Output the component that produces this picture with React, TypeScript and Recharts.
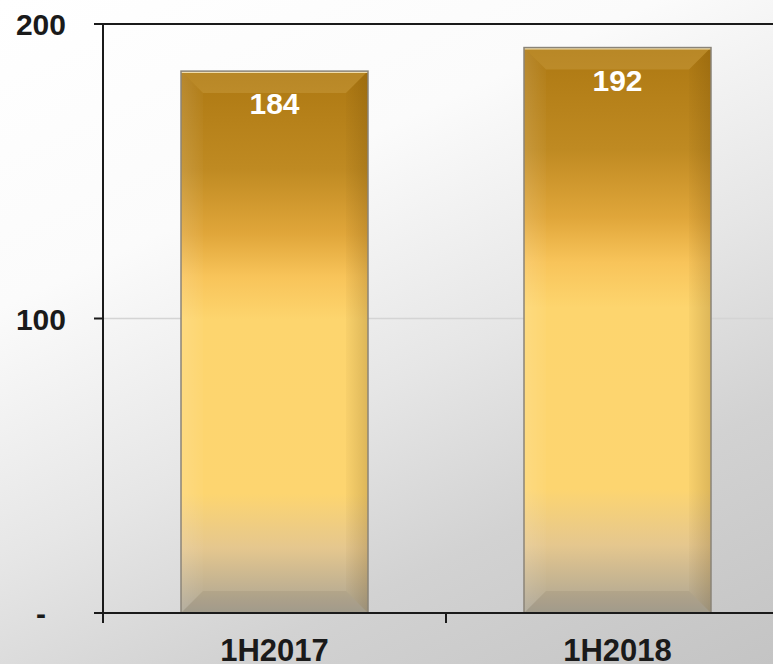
import React from "react";
import { BarChart, Bar, XAxis, YAxis, CartesianGrid, ReferenceLine, LabelList } from "recharts";

const categories = ["1H2017", "1H2018"];
const values = [184, 192];
const yTicks = [0, 100, 200];

const data = categories.map((c, i) => ({ name: c, value: values[i] }));

const BevelBar = (props: any) => {
  const { x, y, width, height } = props;
  if (!height || height <= 0) return null;
  const b = Math.min(22, width / 4, height / 4);
  const r = x + width;
  const bt = y + height;
  return (
    <g>
      <rect x={x} y={y} width={width} height={height} fill="url(#goldGrad)" />
      <polygon points={`${x},${y} ${r},${y} ${r - b},${y + b} ${x + b},${y + b}`} fill="#ffe9a0" fillOpacity={0.14} />
      <polygon points={`${x},${y} ${x + b},${y + b} ${x + b},${bt - b} ${x},${bt}`} fill="url(#leftBevel)" />
      <polygon points={`${r},${y} ${r - b},${y + b} ${r - b},${bt - b} ${r},${bt}`} fill="url(#rightBevel)" />
      <polygon points={`${x},${bt} ${x + b},${bt - b} ${r - b},${bt - b} ${r},${bt}`} fill="#3a3020" fillOpacity={0.08} />
      <line x1={x} y1={y + 1} x2={r} y2={y + 1} stroke="#fff3cc" strokeOpacity={0.8} strokeWidth={2} />
      <rect x={x} y={y} width={width} height={height} fill="none" stroke="#8a8478" strokeWidth={1.5} />
    </g>
  );
};

const XTick = (props: any) => {
  const { x, y, payload } = props;
  const off = payload && payload.offset != null ? payload.offset : 171.5;
  return (
    <g>
      <line x1={x - off} y1={y} x2={x - off} y2={y + 10} stroke="#1a1a1a" strokeWidth={2} />
      <line x1={x + off} y1={y} x2={x + off} y2={y + 10} stroke="#1a1a1a" strokeWidth={2} />
      <text
        x={x}
        y={y + 48}
        textAnchor="middle"
        fill="#1a1a1a"
        fontFamily="'Liberation Sans', Arial, sans-serif"
        fontWeight="bold"
        fontSize={31}
      >
        {payload.value}
      </text>
    </g>
  );
};

const YTick = (props: any) => {
  const { x, y, payload } = props;
  const isZero = payload.value === 0;
  return (
    <text
      x={isZero ? x - 20 : x}
      y={y + 11}
      textAnchor="end"
      fill="#1a1a1a"
      fontFamily="'Liberation Sans', Arial, sans-serif"
      fontWeight="bold"
      fontSize={30}
    >
      {isZero ? "-" : payload.value}
    </text>
  );
};

const BarLabel = (props: any) => {
  const { x, y, width, value } = props;
  return (
    <text
      x={x + width / 2}
      y={y + 43}
      textAnchor="middle"
      fill="#ffffff"
      fontFamily="'Liberation Sans', Arial, sans-serif"
      fontWeight="bold"
      fontSize={30}
    >
      {value}
    </text>
  );
};

export default function App() {
  return (
    <div
      style={{
        position: "absolute",
        left: 0,
        top: 0,
        width: 773,
        height: 664,
        overflow: "hidden",
        background:
          "linear-gradient(155deg, #ffffff 0%, #fbfbfb 30%, #e6e6e6 55%, #d2d2d2 75%, #c4c4c4 100%)",
      }}
    >
      <BarChart
        width={800}
        height={664}
        data={data}
        margin={{ top: 24, right: 11, bottom: 0, left: 0 }}
      >
        <defs>
          <linearGradient id="goldGrad" x1="0" y1="0" x2="0" y2="1">
            <stop offset="0" stopColor="#ad7812" />
            <stop offset="0.18" stopColor="#bf8a22" />
            <stop offset="0.3" stopColor="#e0a63a" />
            <stop offset="0.38" stopColor="#f8c45a" />
            <stop offset="0.46" stopColor="#fdd56e" />
            <stop offset="0.78" stopColor="#fdd570" />
            <stop offset="0.88" stopColor="#e5c78e" />
            <stop offset="1" stopColor="#a9a394" />
          </linearGradient>
          <linearGradient id="leftBevel" x1="0" y1="0" x2="1" y2="0">
            <stop offset="0" stopColor="#ffffff" stopOpacity={0.12} />
            <stop offset="1" stopColor="#ffffff" stopOpacity={0.02} />
          </linearGradient>
          <linearGradient id="rightBevel" x1="0" y1="0" x2="1" y2="0">
            <stop offset="0" stopColor="#5a3a00" stopOpacity={0.03} />
            <stop offset="1" stopColor="#5a3a00" stopOpacity={0.2} />
          </linearGradient>
        </defs>
        <CartesianGrid vertical={false} stroke="#d4d4d4" strokeWidth={1.5} />
        <XAxis
          dataKey="name"
          height={51}
          tickLine={false}
          tickSize={0}
          tickMargin={0}
          axisLine={{ stroke: "#1a1a1a", strokeWidth: 2 }}
          tick={<XTick />}
          interval={0}
        />
        <YAxis
          width={103}
          domain={[0, 200]}
          ticks={yTicks}
          tickSize={9}
          tickMargin={28}
          tickLine={{ stroke: "#1a1a1a", strokeWidth: 2 }}
          axisLine={{ stroke: "#1a1a1a", strokeWidth: 2 }}
          tick={<YTick />}
          interval={0}
        />
        <ReferenceLine y={200} stroke="#1a1a1a" strokeWidth={2} />
        <Bar dataKey="value" barSize={187} shape={<BevelBar />} isAnimationActive={false}>
          <LabelList dataKey="value" content={<BarLabel />} />
        </Bar>
      </BarChart>
    </div>
  );
}
